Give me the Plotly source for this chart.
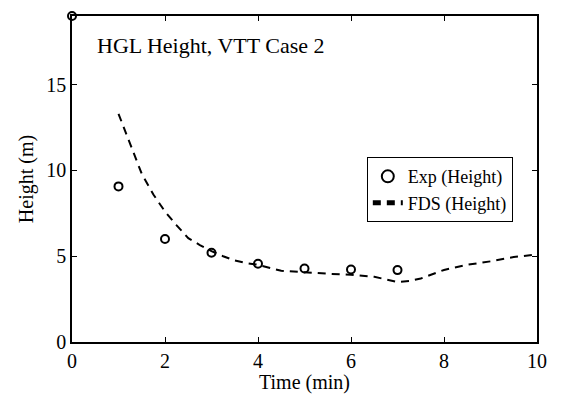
import plotly.graph_objects as go

exp_time = [0, 1, 2, 3, 4, 5, 6, 7]
exp_height = [19.0, 9.07, 6.0, 5.2, 4.56, 4.28, 4.23, 4.19]

fds_time = [1.0, 1.25, 1.5, 1.75, 2.0, 2.25, 2.5, 2.75, 3.0, 3.25, 3.5, 3.75, 4.0,
            4.5, 5.0, 5.5, 6.0, 6.5, 7.0, 7.25, 7.5, 8.0, 8.5, 9.0, 9.5, 10.0]
fds_height = [13.3, 11.6, 9.8, 8.6, 7.6, 6.8, 6.05, 5.65, 5.3, 5.0, 4.75, 4.6, 4.5,
              4.15, 4.05, 3.98, 3.92, 3.8, 3.5, 3.55, 3.7, 4.2, 4.5, 4.7, 4.95, 5.1]

x_ticks = [0, 2, 4, 6, 8, 10]
y_ticks = [0, 5, 10, 15]

FONT = "Liberation Serif"

fig = go.Figure()
fig.add_trace(go.Scatter(
    x=exp_time, y=exp_height, mode="markers", name="Exp (Height)",
    marker=dict(symbol="circle-open", size=8, color="black", line=dict(width=2, color="black")),
    cliponaxis=False,
))
fig.add_trace(go.Scatter(
    x=fds_time, y=fds_height, mode="lines", name="FDS (Height)",
    line=dict(color="black", width=2, dash="8px,6px"),
))

axis_common = dict(
    showline=True, linecolor="black", linewidth=1.5, mirror="ticks",
    ticks="inside", ticklen=5, tickcolor="black", tickwidth=1,
    showgrid=False, zeroline=False, automargin=False,
    tickfont=dict(family=FONT, size=20, color="black"),
)

fig.update_xaxes(range=[0, 10], tickvals=x_ticks, **axis_common,
                 title=dict(text="Time (min)", font=dict(family=FONT, size=20, color="black"), standoff=0))
fig.update_yaxes(range=[0, 19], tickvals=y_ticks, **axis_common,
                 title=dict(text="Height (m)", font=dict(family=FONT, size=20, color="black"), standoff=7))

fig.add_annotation(
    x=0.049, y=0.911, xref="paper", yref="paper", xanchor="left", yanchor="middle",
    text="HGL Height, VTT Case 2", showarrow=False,
    font=dict(family=FONT, size=22, color="black"),
)

fig.update_layout(
    width=554, height=386,
    margin=dict(l=64, r=25, t=8, b=52),
    paper_bgcolor="white", plot_bgcolor="white",
    showlegend=True,
    legend=dict(
        x=0.634, y=0.567, xanchor="left", yanchor="top",
        bgcolor="white", bordercolor="black", borderwidth=1,
        font=dict(family=FONT, size=18, color="black"),
        tracegroupgap=0, itemsizing="constant", entrywidth=120,
    ),
)

fig.write_html("out.html")
